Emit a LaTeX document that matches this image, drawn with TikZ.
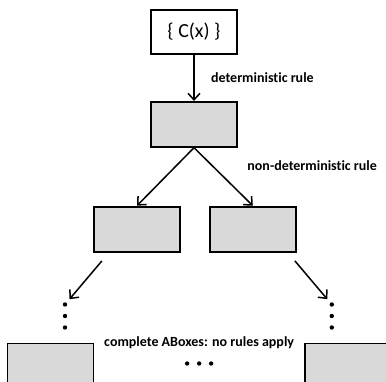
\documentclass[tikz,border=0pt]{standalone}
\usepackage{fontspec}
\setmainfont[Ligatures=NoCommon]{Carlito}
\usepackage{xcolor}
\usetikzlibrary{positioning,arrows.meta,calc}

\definecolor{boxgray}{RGB}{217,217,217}

\begin{document}
\begin{tikzpicture}[
    x=1pt, y=1pt,
    font=\fontsize{14}{16}\selectfont,
    >={Straight Barb[length=6.5pt,width=12pt]},
    abox/.style={draw, line width=1.8pt, fill=boxgray, rectangle, minimum width=86pt, minimum height=45pt, inner sep=0pt},
    arr/.style={->, line width=1.5pt},
    rulelbl/.style={font=\fontsize{14}{16}\selectfont\bfseries}
]
\useasboundingbox (0,0) rectangle (386,-381);
\clip (0,0) rectangle (386,-381);

% start ABox
\node[abox, fill=white, minimum height=44pt, font=\fontsize{20}{24}\selectfont] (init) at (194,-32) {\{ C(x) \}};

% after the deterministic rule
\node[abox, below=46pt of init] (det) {};

% the two branches
\node[abox, below=58pt of det.south, xshift=-57pt] (l2) {};
\node[abox, right=28pt of l2] (r2) {};

% complete ABoxes
\node[abox, below=90pt of l2.south, xshift=-86.5pt] (lb) {};
\node[abox, below=90pt of r2.south, xshift=95pt] (rb) {};

% dots
\coordinate[above=38pt of lb.north, xshift=14.5pt] (ldots);
\coordinate[above=38pt of rb.north, xshift=-16pt] (rdots);
\foreach \d in {0,11.5,23} {
    \fill ([yshift=-\d pt]ldots) circle (2.2pt);
    \fill ([yshift=-\d pt]rdots) circle (2.2pt);
}

% labels
\node[rulelbl, right=6pt of det.south east, yshift=-18pt] (ndlbl) {non-deterministic rule};
\node[rulelbl] (donelbl) at ($(lb.north east)!0.5!(rb.north west)$) {complete ABoxes: no rules apply};
\coordinate[below=21pt of donelbl.center] (hdots);
\foreach \d in {-12,0,12}
    \fill ([xshift=\d pt]hdots) circle (2.2pt);

% arrows
\draw[arr] (init) -- node[rulelbl, right=13pt] (detlbl) {deterministic rule} (det);
\draw[arr] (det.south) -- (l2.north);
\draw[arr] (det.south) -- (r2.north);
\draw[arr, shorten <=11pt, shorten >=7pt] ([xshift=-28pt]l2.south) -- (ldots);
\draw[arr, shorten <=11pt, shorten >=7pt] ([xshift=35pt]r2.south) -- (rdots);

\end{tikzpicture}
\end{document}
